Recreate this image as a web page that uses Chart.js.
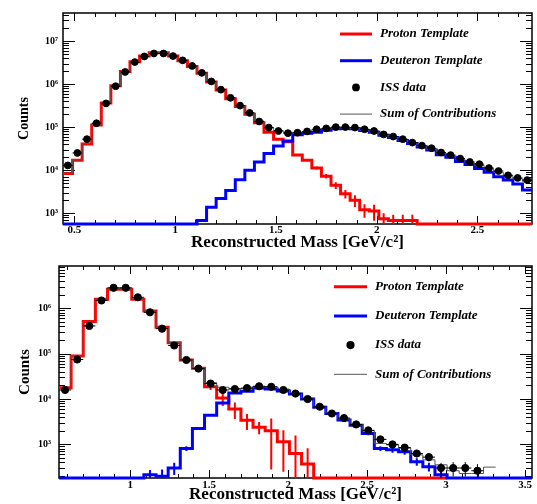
<!DOCTYPE html>
<html>
<head>
<meta charset="utf-8">
<script src="https://cdn.jsdelivr.net/npm/chart.js@4.4.1/dist/chart.umd.min.js"></script>
<style>
  html, body { margin: 0; padding: 0; background: #fff; }
  .panel { position: absolute; left: 0; width: 537px; height: 252px; }
</style>
</head>
<body>
<div class="panel" style="top:0"><canvas id="massTop"></canvas></div>
<div class="panel" style="top:252px"><canvas id="massBottom"></canvas></div>
<script>
// Panel 1: 49 bins starting at 0.443 GeV/c2, bin width 0.0475
const topBinLow = 0.443;
const topBinWidth = 0.0475;
const topBinCount = 49;
const topData = [12900, 25100, 52500, 123000, 355000, 891000, 1910000, 3240000, 4370000, 5130000,
  5130000, 4470000, 3550000, 2630000, 1820000, 1150000, 741000, 479000, 316000, 214000,
  135000, 97700, 81300, 72400, 74100, 79400, 89100, 93300, 100000, 100000,
  97700, 89100, 81300, 67600, 60300, 52500, 43700, 37200, 32400, 25700,
  22400, 18600, 15500, 13800, 11200, 9550, 7590, 6610, 5890];
const topDataErr = new Array(49).fill(0);
const topProton = [8320, 17000, 40700, 112000, 363000, 912000, 1950000, 3310000, 4470000, 5370000,
  5370000, 4470000, 3470000, 2570000, 1780000, 1120000, 724000, 457000, 302000, 200000,
  126000, 75900, 52500, 45700, 22400, 17000, 11200, 7240, 4470, 2820,
  2000, 1200, 1120, 741, 676, 676, 676, 0, 0, 0,
  0, 0, 0, 0, 0, 0, 0, 0, 0];
const topProtonErr = [0, 0, 0, 0, 0, 0, 0, 0, 0, 0,
  0, 0, 0, 0, 0, 0, 0, 0, 0, 0,
  0, 0, 0, 0, 0, 0, 900, 870, 800, 620,
  600, 420, 450, 260, 240, 240, 240, 0, 0, 0,
  0, 0, 0, 0, 0, 0, 0, 0, 0];
const topDeuteron = [0, 0, 0, 0, 0, 0, 0, 0, 0, 0,
  0, 0, 0, 0, 676, 1380, 2190, 3390, 6030, 10000,
  15500, 24500, 36300, 47900, 66100, 72400, 75900, 85100, 91200, 93300,
  91200, 83200, 75900, 64600, 57500, 49000, 41700, 34700, 29500, 22900,
  20000, 15800, 13500, 11000, 8910, 7080, 5890, 4790, 3470];
const topDeuteronErr = new Array(49).fill(0);
const topSum = [8510, 17400, 41700, 115000, 363000, 912000, 1950000, 3310000, 4470000, 5370000,
  5370000, 4470000, 3550000, 2630000, 1820000, 1150000, 741000, 479000, 316000, 214000,
  138000, 97700, 83200, 75900, 75900, 79400, 87100, 91200, 95500, 97700,
  93300, 85100, 77600, 66100, 58900, 50100, 42700, 35500, 30900, 25100,
  21400, 17800, 14800, 12900, 10700, 8910, 7410, 6310, 5500];
const topXTicks = [0.5, 1, 1.5, 2, 2.5];
const topYTicks = [1e3, 1e4, 1e5, 1e6, 1e7];

// Panel 2: 39 bins starting at 0.5486 GeV/c2, bin width 0.0768
const botBinLow = 0.5486;
const botBinWidth = 0.0768;
const botBinCount = 39;
const botData = [15800, 74100, 407000, 1480000, 2820000, 2820000, 1740000, 813000, 355000, 151000,
  72400, 46800, 21900, 15800, 16600, 17400, 19100, 18600, 15800, 13200,
  10000, 6760, 4790, 3800, 2750, 2040, 1290, 1000, 851, 631,
  525, 302, 302, 302, 263];
const botDataErr = [0, 0, 0, 0, 0, 0, 0, 0, 0, 0,
  0, 0, 1500, 1200, 1200, 1200, 1200, 1000, 900, 700,
  200, 200, 190, 190, 165, 160, 130, 120, 120, 110,
  105, 90, 105, 105, 105];
const botProton = [17800, 89100, 513000, 1580000, 2630000, 2630000, 1580000, 871000, 380000, 174000,
  72400, 47900, 18600, 10500, 6030, 3390, 2400, 2000, 1150, 631,
  372, 0, 0, 0, 0, 0, 0, 0, 0, 0,
  0, 0];
const botProtonErr = [0, 0, 0, 0, 0, 0, 0, 0, 0, 0,
  0, 4800, 2800, 3500, 2400, 1300, 720, 1720, 900, 950,
  450, 0, 0, 0, 0, 0, 0, 0, 0, 0,
  0, 0];
const botDeuteron = [0, 0, 0, 0, 0, 0, 0, 214, 200, 302,
  813, 2240, 4370, 8130, 13500, 14800, 17400, 16600, 15100, 12900,
  10000, 6610, 4790, 3470, 2630, 1740, 813, 759, 692, 417,
  324, 214, 0, 0, 0, 0, 0, 0, 0];
const botDeuteronErr = [0, 0, 0, 0, 0, 0, 0, 60, 80, 90,
  100, 150, 0, 0, 0, 0, 0, 0, 0, 0,
  0, 0, 0, 0, 0, 150, 100, 100, 100, 80,
  70, 60, 0, 0, 0, 0, 0, 0, 0];
const botSum = [17800, 89100, 513000, 1580000, 2690000, 2690000, 1620000, 871000, 380000, 174000,
  72400, 49000, 22900, 18200, 17000, 17000, 18600, 18600, 16600, 13500,
  10500, 6920, 4900, 3630, 2750, 2000, 1050, 977, 832, 589,
  457, 355, 263, 229, 229, 316];
const botXTicks = [1, 1.5, 2, 2.5, 3, 3.5];
const botYTicks = [1e3, 1e4, 1e5, 1e6];

const SERIF = "'Liberation Serif', 'DejaVu Serif', serif";
const SUP = '⁰¹²³⁴⁵⁶⁷⁸⁹';

function binEdges(lo, width, n) {
  const e = [];
  for (let i = 0; i <= n; i++) e.push(lo + i * width);
  return e;
}

// step outline: each bin value starts at its low edge, last one closed at its high edge.
// empty bins sit on the axis floor, as ROOT draws them on a log scale
function histPoints(edges, vals, floor) {
  const pts = vals.map((v, i) => ({x: edges[i], y: v > 0 ? v : floor}));
  pts.push({x: edges[vals.length], y: pts[pts.length - 1].y});
  return pts;
}

function errorBars(centers, vals, errs, halfWidth, floor) {
  const pts = [];
  vals.forEach((v, i) => {
    if (errs[i]) {
      pts.push({x: centers[i], y: Math.max(v - errs[i], floor)}, {x: centers[i], y: v + errs[i]}, {x: centers[i], y: null});
    }
    if (halfWidth) {
      pts.push({x: centers[i] - halfWidth, y: v}, {x: centers[i] + halfWidth, y: v}, {x: centers[i], y: null});
    }
  });
  return pts;
}

// ROOT style frame with inward ticks on all four sides
const rootFrame = {
  id: 'rootFrame',
  beforeDatasetsDraw(chart, args, o) {
    const {ctx, chartArea: a, scales: {x, y}} = chart;
    ctx.save();
    ctx.strokeStyle = '#000';
    ctx.lineWidth = 1;
    ctx.beginPath();
    const k0 = Math.ceil(x.min / 0.1 - 1e-6), k1 = Math.floor(x.max / 0.1 + 1e-6);
    for (let k = k0; k <= k1; k++) {
      const px = Math.round(x.getPixelForValue(k * 0.1)) + 0.5;
      const len = k % 5 === 0 ? o.xMajor : o.xMinor;
      ctx.moveTo(px, a.bottom); ctx.lineTo(px, a.bottom - len);
      ctx.moveTo(px, a.top); ctx.lineTo(px, a.top + len);
    }
    const d0 = Math.floor(Math.log10(y.min)), d1 = Math.ceil(Math.log10(y.max));
    for (let d = d0; d <= d1; d++) {
      for (let m = 1; m <= 9; m++) {
        const v = m * Math.pow(10, d);
        if (v < y.min || v > y.max) continue;
        const py = Math.round(y.getPixelForValue(v)) + 0.5;
        const len = m === 1 ? o.yMajor : o.yMinor;
        ctx.moveTo(a.left, py); ctx.lineTo(a.left + len, py);
        ctx.moveTo(a.right, py); ctx.lineTo(a.right - len, py);
      }
    }
    ctx.stroke();
    ctx.lineWidth = 1.5;
    ctx.strokeRect(a.left, a.top, a.right - a.left, a.bottom - a.top);
    ctx.restore();
  }
};

const rootLegend = {
  id: 'rootLegend',
  afterDraw(chart, args, o) {
    const ctx = chart.ctx;
    const items = chart.data.datasets.filter(d => d.legendOrder).sort((p, q) => p.legendOrder - q.legendOrder);
    ctx.save();
    items.forEach((d, i) => {
      const y = o.y + i * o.dy;
      if (d.pointRadius > 0) {
        ctx.fillStyle = d.backgroundColor;
        ctx.beginPath();
        ctx.arc((o.x0 + o.x1) / 2, y, d.pointRadius + 0.5, 0, Math.PI * 2);
        ctx.fill();
      } else {
        ctx.strokeStyle = d.borderColor;
        ctx.lineWidth = d.borderWidth;
        ctx.beginPath();
        ctx.moveTo(o.x0, y); ctx.lineTo(o.x1, y);
        ctx.stroke();
      }
      ctx.fillStyle = '#000';
      ctx.font = 'italic bold 13px ' + SERIF;
      ctx.textBaseline = 'middle';
      ctx.textAlign = 'left';
      ctx.fillText(d.label, o.textX, y);
    });
    ctx.restore();
  }
};

function makePanel(id, p) {
  const edges = binEdges(p.lo, p.width, p.nBins);
  const centers = edges.slice(0, -1).map(e => e + p.width / 2);
  new Chart(document.getElementById(id), {
    type: 'line',
    data: {
      datasets: [
        {label: 'ISS data', data: p.data.map((v, i) => ({x: centers[i], y: v})), showLine: false,
         pointRadius: p.markerRadius, pointBackgroundColor: '#000', backgroundColor: '#000', borderColor: '#000', legendOrder: 3},
        {label: 'data errors', data: errorBars(centers, p.data, p.dataErr, p.width / 2, p.yMin),
         borderColor: '#000', borderWidth: 1, pointRadius: 0, spanGaps: false},
        {label: 'Sum of Contributions', data: histPoints(edges, p.sum, p.yMin), stepped: true,
         borderColor: '#555', borderWidth: 1, pointRadius: 0, clip: 3, legendOrder: 4},
        {label: 'deuteron errors', data: errorBars(centers, p.deuteron, p.deuteronErr, 0, p.yMin),
         borderColor: '#0000ff', borderWidth: 2, pointRadius: 0, spanGaps: false},
        {label: 'Deuteron Template', data: histPoints(edges, p.deuteron, p.yMin), stepped: true,
         borderColor: '#0000ff', borderWidth: 3, pointRadius: 0, clip: 3, legendOrder: 2},
        {label: 'proton errors', data: errorBars(centers, p.proton, p.protonErr, 0, p.yMin),
         borderColor: '#ff0000', borderWidth: 2, pointRadius: 0, spanGaps: false},
        {label: 'Proton Template', data: histPoints(edges, p.proton, p.yMin), stepped: true,
         borderColor: '#ff0000', borderWidth: 3, pointRadius: 0, clip: 3, legendOrder: 1}
      ]
    },
    options: {
      responsive: true,
      maintainAspectRatio: false,
      animation: false,
      events: [],
      layout: {padding: {top: p.padTop, right: 1, bottom: 0, left: 0}},
      plugins: {
        legend: {display: false},
        tooltip: {enabled: false},
        rootFrame: {xMajor: 8, xMinor: 4, yMajor: 12, yMinor: 6},
        rootLegend: p.legend
      },
      scales: {
        x: {
          type: 'linear', min: p.lo, max: p.lo + p.nBins * p.width,
          grid: {display: false, drawTicks: false}, border: {display: false},
          ticks: {color: '#000', padding: p.xTickPad, maxRotation: 0, autoSkip: false,
                  font: {family: SERIF, size: 11, weight: 'bold'}, callback: v => String(v)},
          afterBuildTicks: s => { s.ticks = p.xTicks.map(v => ({value: v})); },
          afterFit: s => { s.height = p.xAxisHeight; },
          title: {display: true, text: 'Reconstructed Mass [GeV/c²]', color: '#000',
                  font: {family: SERIF, size: 17, weight: 'bold'}, padding: {top: 0, bottom: p.xTitlePad}}
        },
        y: {
          type: 'logarithmic', min: p.yMin, max: p.yMax,
          grid: {display: false, drawTicks: false}, border: {display: false},
          ticks: {color: '#000', padding: p.yTickPad, autoSkip: false,
                  font: {family: SERIF, size: 10, weight: 'bold'},
                  callback: v => '10' + String(Math.round(Math.log10(v))).split('').map(c => SUP[+c]).join('')},
          afterBuildTicks: s => { s.ticks = p.yTicks.map(v => ({value: v})); },
          afterFit: s => { s.width = p.yAxisWidth; },
          title: {display: true, text: 'Counts', color: '#000',
                  font: {family: SERIF, size: p.yTitleSize, weight: 'bold'}, padding: {top: 16, bottom: 0}}
        }
      }
    },
    plugins: [rootFrame, rootLegend]
  });
}

makePanel('massTop', {
  lo: topBinLow, width: topBinWidth, nBins: topBinCount,
  data: topData, dataErr: topDataErr, proton: topProton, protonErr: topProtonErr,
  deuteron: topDeuteron, deuteronErr: topDeuteronErr, sum: topSum,
  xTicks: topXTicks, yTicks: topYTicks, yMin: 562, yMax: 4.47e7,
  padTop: 13, xAxisHeight: 28, yAxisWidth: 63, yTickPad: 5, xTickPad: 0, xTitlePad: -1,
  yTitleSize: 14, markerRadius: 3.4,
  legend: {x0: 340, x1: 372, textX: 380, y: 34, dy: 26.7}
});

makePanel('massBottom', {
  lo: botBinLow, width: botBinWidth, nBins: botBinCount,
  data: botData, dataErr: botDataErr, proton: botProton, protonErr: botProtonErr,
  deuteron: botDeuteron, deuteronErr: botDeuteronErr, sum: botSum,
  xTicks: botXTicks, yTicks: botYTicks, yMin: 182, yMax: 8.51e6,
  padTop: 12, xAxisHeight: 26, yAxisWidth: 59, yTickPad: 8, xTickPad: 1, xTitlePad: -1,
  yTitleSize: 15, markerRadius: 3.6,
  legend: {x0: 334, x1: 367, textX: 375, y: 34.7, dy: 29.2}
});
</script>
</body>
</html>
